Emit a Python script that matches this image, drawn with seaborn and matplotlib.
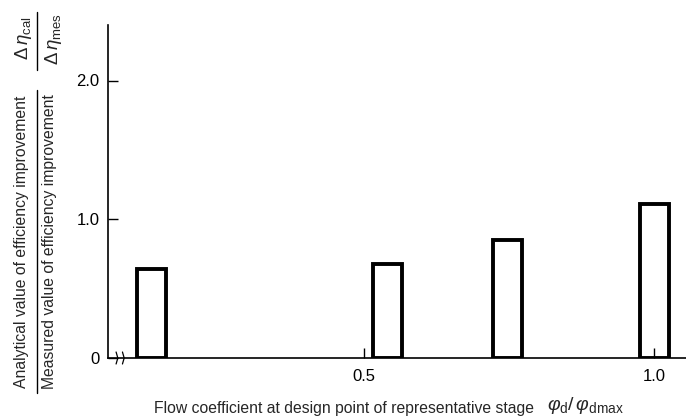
import matplotlib
matplotlib.use("Agg")
import matplotlib.pyplot as plt
from matplotlib.lines import Line2D
import seaborn as sns
import pandas as pd

# Data
flow_coeff = [0.133, 0.54, 0.747, 1.0]          # phi_d / phi_dmax (first bar sits after an axis break)
eff_ratio = [0.64, 0.68, 0.85, 1.11]            # d_eta_cal / d_eta_mes
x_ticks = [0.5, 1.0]
x_tick_labels = ["0.5", "1.0"]
y_ticks = [0, 1.0, 2.0]
y_tick_labels = ["0", "1.0", "2.0"]

df = pd.DataFrame({"x": flow_coeff, "y": eff_ratio})

sns.set_theme(style="white")
plt.rcParams["font.family"] = ["Liberation Sans", "DejaVu Sans"]
plt.rcParams["mathtext.fontset"] = "custom"
plt.rcParams["mathtext.rm"] = "Liberation Sans"
plt.rcParams["mathtext.it"] = "Liberation Sans:italic"

fig = plt.figure(figsize=(6.86, 4.2), dpi=100)
ax = fig.add_axes([108 / 686, 1 - 358 / 420, 1 - 108 / 686, (358 - 25) / 420])

sns.barplot(data=df, x="x", y="y", native_scale=True, width=0.24,
            color="white", edgecolor="black", linewidth=2.8,
            errorbar=None, ax=ax, saturation=1)
for p in ax.patches:
    p.set_facecolor("none")

ax.set_xlim(0.0586, 1.055)
ax.set_ylim(0, 2.40)
ax.set_xticks(x_ticks)
ax.set_xticklabels(x_tick_labels)
ax.set_yticks(y_ticks)
ax.set_yticklabels(y_tick_labels)
ax.tick_params(axis="both", direction="in", length=7, width=1, color="black",
               labelsize=12, labelcolor="black", bottom=True, left=True)
ax.tick_params(axis="x", pad=8)
ax.tick_params(axis="y", pad=6)
ax.set_xlabel("")
ax.set_ylabel("")
for s in ["top", "right"]:
    ax.spines[s].set_visible(False)
for s in ["left", "bottom"]:
    ax.spines[s].set_color("black")
    ax.spines[s].set_linewidth(1.2)

# axis break symbol on the x axis
for dx in (0.0, 0.011):
    ax.plot([0.014 + dx, 0.017 + dx, 0.014 + dx], [-0.018, 0.0, 0.018],
            transform=ax.transAxes, color="black", lw=0.9, clip_on=False)

# y-axis label as a fraction
fig.text(22 / 686, 1 - 242 / 420, "Analytical value of efficiency improvement",
         rotation=90, ha="center", va="center", fontsize=11.3)
fig.text(50 / 686, 1 - 242 / 420, "Measured value of efficiency improvement",
         rotation=90, ha="center", va="center", fontsize=11.3)
fig.add_artist(Line2D([37 / 686, 37 / 686], [1 - 90 / 420, 1 - 393 / 420],
                      color="black", lw=1.0))
fig.text(23 / 686, 1 - 38 / 420, r"$\Delta\,\eta_{\rm cal}$",
         rotation=90, ha="center", va="center", fontsize=13.5)
fig.text(53 / 686, 1 - 39 / 420, r"$\Delta\,\eta_{\rm mes}$",
         rotation=90, ha="center", va="center", fontsize=13.5)
fig.add_artist(Line2D([37 / 686, 37 / 686], [1 - 12 / 420, 1 - 70 / 420],
                      color="black", lw=1.0))

# x-axis label
fig.text(344 / 686, 1 - 409 / 420,
         "Flow coefficient at design point of representative stage",
         ha="center", va="center", fontsize=11.3)
fig.text(547 / 686, 1 - 406 / 420, r"$\varphi_{\rm d}/\,\varphi_{\rm dmax}$",
         ha="left", va="center", fontsize=14)

fig.savefig("out.png", dpi=100)
